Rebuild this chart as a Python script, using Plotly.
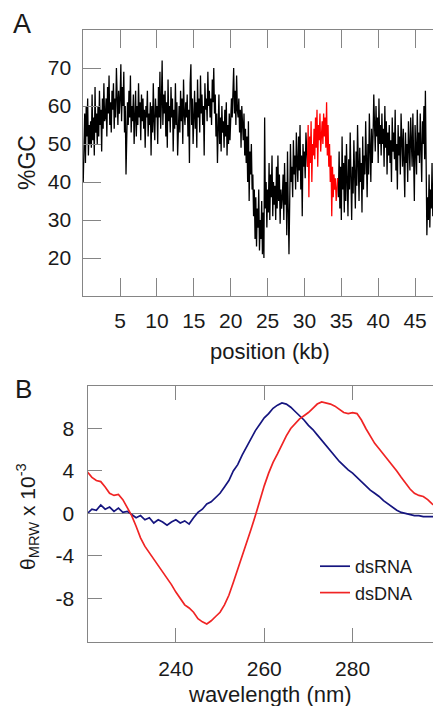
import plotly.graph_objects as go

# ---------------- Panel A data: %GC along the genome (kb), 0.1 kb steps ----------------
gc_left_start = 0.0
gc_left = [
    40, 48, 58, 45, 60, 52, 62, 47, 55, 50,
    56, 49, 63, 51, 57, 47, 65, 53, 58, 50,
    60, 52, 64, 55, 59, 48, 62, 54, 66, 56,
    57, 62, 52, 65, 58, 68, 55, 61, 53, 64,
    59, 66, 54, 62, 57, 70, 60, 55, 64, 58,
    62, 71, 56, 65, 60, 69, 53, 60, 42, 58,
    61, 55, 64, 57, 68, 53, 60, 56, 63, 50,
    58, 64, 52, 60, 55, 66, 57, 61, 51, 63,
    56, 62, 54, 59, 49, 60, 57, 64, 52, 58,
    55, 61, 47, 60, 53, 66, 56, 51, 62, 57,
    60, 50, 65, 57, 69, 54, 61, 72, 55, 63,
    58, 64, 52, 61, 49, 67, 56, 60, 53, 65,
    57, 62, 48, 59, 54, 66, 55, 61, 47, 58,
    60, 53, 64, 56, 62, 50, 67, 58, 55, 61,
    57, 63, 52, 59, 45, 66, 71, 55, 62, 50,
    59, 64, 54, 61, 49, 67, 57, 62, 53, 68,
    58, 63, 55, 60, 47, 66, 59, 62, 56, 69,
    60, 64, 57, 62, 55, 67, 61, 70, 58, 63,
    52, 58, 45, 55, 63, 50, 57, 48, 60, 53,
    56, 49, 59, 52, 61, 47, 55, 50, 58, 51,
    55, 62, 57, 66, 70, 58, 64, 55, 68, 59,
    57, 62, 53, 59, 49, 60, 55, 51, 58, 47,
    54, 45, 52, 40, 56, 35, 48, 42, 50, 38,
    42, 31, 38, 25, 36, 23, 33, 28, 38, 22,
    30, 25, 35, 21, 32, 20, 57, 33, 40, 28,
    38, 32, 45, 30, 42, 36, 47, 31, 40, 34,
    39, 30, 44, 33, 47, 35, 42, 29, 38, 33,
    36, 42, 30, 45, 34, 40, 26, 48, 33, 21,
    35, 50, 40, 44, 36, 51, 42, 47, 38, 53,
    45, 40, 52, 43, 55, 38, 47, 31, 50, 44,
    48, 41, 53, 46, 44,
]
gc_red_start = 30.4
gc_red = [
    44, 55, 36, 52, 45, 56, 40, 50, 47, 54,
    46, 57, 49, 59, 44, 55, 51, 58, 48, 54,
    56, 50, 58, 52, 57, 49, 61, 47, 55, 44,
    50, 40, 47, 31, 44, 36, 42, 38, 41, 35, 40, 41,
]
gc_right_start = 34.5
gc_right = [
    41, 36, 48, 33, 44, 30, 52, 38, 45, 32,
    47, 35, 50, 40, 31, 46, 38, 53, 42, 30,
    44, 37, 51, 41, 33, 48, 39, 55, 43, 35,
    49, 40, 45, 32, 52, 38, 47, 42, 56, 44,
    36, 50, 42, 58, 46, 40, 54, 45, 52, 63,
    55, 48, 60, 52, 57, 45, 62, 50, 55, 47,
    58, 50, 54, 44, 60, 49, 56, 42, 53, 47,
    55, 45, 51, 40, 57, 48, 53, 46, 59, 43,
    50, 38, 55, 47, 52, 42, 58, 49, 44, 54,
    47, 36, 53, 45, 50, 40, 56, 48, 43, 57,
    50, 44, 58, 46, 35, 55, 49, 42, 59, 47,
    53, 45, 58, 49, 40, 56, 50, 60, 46, 64,
    40, 26, 36, 30, 42, 28, 38, 33, 45, 31,
    36, 29, 40, 33, 27, 38, 31, 35, 30, 34,
    33,
]
gc_step = 0.1
gc_xticks = [5, 10, 15, 20, 25, 30, 35, 40, 45]
gc_yticks = [20, 30, 40, 50, 60, 70]

# ---------------- Panel B data: CD spectra ----------------
wavelength = list(range(220, 301))
dsRNA = [
    0.0, 0.4, 0.3, 0.8, 0.4, 0.6, 0.2, 0.5, 0.1, 0.2,
    -0.1, -0.4, -0.2, -0.6, -0.4, -0.9, -0.6, -0.8, -1.1, -0.8,
    -0.6, -0.9, -0.7, -1.0, -0.4, 0.1, 0.4, 0.9, 1.1, 1.5,
    1.9, 2.5, 3.1, 4.0, 4.6, 5.5, 6.3, 7.0, 7.8, 8.4,
    9.0, 9.4, 9.9, 10.2, 10.4, 10.3, 10.0, 9.6, 9.2, 8.8,
    8.3, 7.9, 7.4, 6.9, 6.4, 5.8, 5.3, 4.9, 4.5, 4.1,
    3.8, 3.4, 3.0, 2.6, 2.2, 1.9, 1.6, 1.2, 0.9, 0.6,
    0.3, 0.1, 0.0, -0.1, -0.2, -0.2, -0.3, -0.3, -0.3, -0.3,
    -0.3,
]
dsDNA = [
    3.9, 3.4, 3.1, 3.0, 2.5, 1.9, 1.7, 1.8, 1.3, 0.6,
    -0.2, -1.2, -2.3, -3.1, -3.7, -4.2, -4.8, -5.4, -6.0, -6.7,
    -7.4, -8.0, -8.6, -8.9, -9.3, -9.9, -10.2, -10.4, -10.1, -9.7,
    -9.3, -8.6, -7.7, -6.5, -5.3, -4.0, -2.8, -1.5, -0.2, 1.3,
    2.6, 3.8, 4.8, 5.6, 6.5, 7.3, 8.0, 8.5, 8.9, 9.2,
    9.5, 9.9, 10.3, 10.5, 10.4, 10.3, 10.1, 9.8, 9.5, 9.4,
    9.5, 9.4, 8.8, 8.0, 7.3, 6.6, 6.1, 5.6, 5.1, 4.6,
    4.0, 3.4, 2.8, 2.3, 1.9, 1.7, 1.6, 1.3, 0.9, 0.6,
    0.3,
]
cd_xticks = [240, 260, 280]
cd_yticks = [-8, -4, 0, 4, 8]
cd_yticktext = ["-8", "-4", "0", "4", "8"]


def positions(start, n, step):
    return [round(start + i * step, 2) for i in range(n)]


W, H = 433, 706
FONT = "Liberation Sans, Arial, sans-serif"
AXC = "#858585"
TXT = "#1a1a1a"

fig = go.Figure()

fig.add_trace(go.Scatter(x=positions(gc_left_start, len(gc_left), gc_step), y=gc_left,
                         mode="lines", line=dict(color="#000000", width=1.3),
                         xaxis="x", yaxis="y", showlegend=False))
fig.add_trace(go.Scatter(x=positions(gc_right_start, len(gc_right), gc_step), y=gc_right,
                         mode="lines", line=dict(color="#000000", width=1.3),
                         xaxis="x", yaxis="y", showlegend=False))
fig.add_trace(go.Scatter(x=positions(gc_red_start, len(gc_red), gc_step), y=gc_red,
                         mode="lines", line=dict(color="#ff0000", width=1.3),
                         xaxis="x", yaxis="y", showlegend=False))

fig.add_trace(go.Scatter(x=wavelength, y=dsRNA, mode="lines", name="dsRNA",
                         line=dict(color="#15157f", width=1.7),
                         xaxis="x2", yaxis="y3"))
fig.add_trace(go.Scatter(x=wavelength, y=dsDNA, mode="lines", name="dsDNA",
                         line=dict(color="#f02424", width=1.7),
                         xaxis="x2", yaxis="y3"))


def px(x):
    return x / W


def py(y):
    return 1 - y / H


tickfont = dict(family=FONT, size=21, color=TXT)
common = dict(showgrid=False, ticks="inside", tickcolor=AXC,
              tickwidth=1.2, linecolor=AXC, linewidth=1.3, tickfont=tickfont)

fig.update_layout(
    width=W, height=H,
    margin=dict(l=0, r=0, t=0, b=0),
    paper_bgcolor="white", plot_bgcolor="white",
    font=dict(family=FONT, size=21, color=TXT),
    xaxis=dict(domain=[px(82.5), 1], anchor="y", range=[-0.1, 47.43],
               tickvals=gc_xticks, ticklen=18, showline=True, mirror="ticks",
               ticklabelstandoff=6, zeroline=False, **common),
    yaxis=dict(domain=[py(296), py(30)], anchor="x", range=[10, 80],
               tickvals=gc_yticks, ticklen=18, showline=True, mirror=False,
               ticklabelstandoff=6, zeroline=False, **common),
    yaxis2=dict(overlaying="y", side="right", anchor="x", range=[10, 80],
                tickvals=gc_yticks, ticklen=10, showline=False,
                showticklabels=False, zeroline=False, **common),
    xaxis2=dict(domain=[px(87.5), 1], anchor="y3", range=[220, 298.2],
                tickvals=cd_xticks, ticklen=14, showline=True, mirror="ticks",
                ticklabelstandoff=8, zeroline=False, **common),
    yaxis3=dict(domain=[py(642), py(386)], anchor="x2", range=[-12.1, 12],
                tickvals=cd_yticks, ticktext=cd_yticktext, ticklen=14,
                showline=True, mirror=False, ticklabelstandoff=8,
                zeroline=True, zerolinecolor=AXC, zerolinewidth=1, **common),
    yaxis4=dict(overlaying="y3", side="right", anchor="x2", range=[-12.1, 12],
                tickvals=[-8, -4, 4, 8], ticklen=6, showline=False,
                showticklabels=False, zeroline=False, **common),
    legend=dict(x=px(315), y=py(548), xanchor="left", yanchor="top",
                bgcolor="rgba(0,0,0,0)", font=dict(family=FONT, size=18, color=TXT),
                tracegroupgap=0, itemwidth=30),
    showlegend=True,
)

fig.add_annotation(text="A", x=px(22), y=py(24), xref="paper", yref="paper",
                   showarrow=False, font=dict(family=FONT, size=27, color=TXT),
                   xanchor="center", yanchor="middle")
fig.add_annotation(text="B", x=px(23), y=py(389), xref="paper", yref="paper",
                   showarrow=False, font=dict(family=FONT, size=26, color=TXT),
                   xanchor="center", yanchor="middle")
fig.add_annotation(text="%GC", x=px(27), y=py(163), xref="paper", yref="paper",
                   showarrow=False, textangle=-90, font=dict(family=FONT, size=23, color=TXT),
                   xanchor="center", yanchor="middle")
fig.add_annotation(text="position (kb)", x=px(270), y=py(352), xref="paper", yref="paper",
                   showarrow=False, font=dict(family=FONT, size=22, color=TXT),
                   xanchor="center", yanchor="middle")
fig.add_annotation(text="θ<sub>MRW</sub> x 10<sup>-3</sup>", x=px(27), y=py(517),
                   xref="paper", yref="paper", showarrow=False, textangle=-90,
                   font=dict(family=FONT, size=21, color=TXT),
                   xanchor="center", yanchor="middle")
fig.add_annotation(text="wavelength (nm)", x=px(270), y=py(694), xref="paper", yref="paper",
                   showarrow=False, font=dict(family=FONT, size=22, color=TXT),
                   xanchor="center", yanchor="middle")

fig.write_html("out.html")
